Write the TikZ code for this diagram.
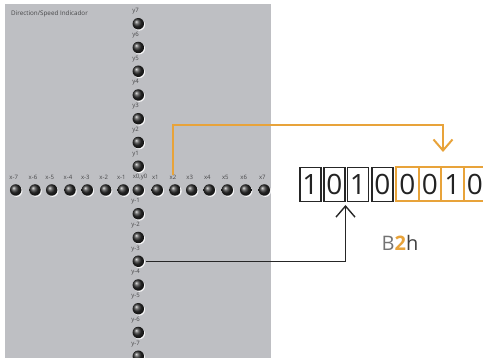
\documentclass[tikz,border=0pt]{standalone}
\usepackage{fontspec}
\setmainfont{Open Sans}
\usetikzlibrary{arrows.meta}
\definecolor{panel}{RGB}{190,191,195}
\definecolor{org}{RGB}{232,163,58}
\definecolor{lbl}{RGB}{70,70,72}
\definecolor{dig}{RGB}{35,35,35}
\begin{document}
\begin{tikzpicture}[x=1pt,y=-1pt,
  dot/.style={circle, minimum size=11.5pt, inner sep=0pt, ball color=black!82,
    preaction={fill=white!85!panel, transform canvas={shift={(1pt,-1.1pt)}}}},
  lab/.style={font=\fontsize{6}{6}\selectfont, text=lbl, inner sep=0pt},
  bbox/.style={draw=black!85, line width=1.3pt, minimum width=21pt, minimum height=34pt,
    inner sep=0pt, font=\fontsize{28}{28}\selectfont, text=dig},
  obox/.style={draw=org, line width=2pt, minimum width=22.5pt, minimum height=34pt,
    inner sep=0pt, font=\fontsize{28}{28}\selectfont, text=dig},
  barb/.style={-{Straight Barb[length=11pt,width=19pt]}}]
\useasboundingbox (0,0) rectangle (483,358);
\clip (0,0) rectangle (483,358);
\fill[panel] (5,4) rectangle (271,362);
\node[anchor=west, font=\fontsize{6.3}{6.3}\selectfont, text=lbl, inner sep=0pt] (title) at (11,14) {Direction/Speed Indicador};
% horizontal row
\foreach \n/\x/\t in {hm7/15.7/x-7, hm6/35/x-6, hm5/51.7/x-5, hm4/70/x-4, hm3/87.3/x-3, hm2/105.7/x-2, hm1/123.3/x-1,
  h1/157.3/x1, h2/175/x2, h3/191.7/x3, h4/209.3/x4, h5/227.3/x5, h6/245.7/x6, h7/264.3/x7}{
  \node[dot] (\n) at (\x,190) {};
  \node[lab] (l\n) at (\x-2,177) {\t};
}
\node[dot] (c) at (138.3,190) {};
\node[lab] (lc) at (140,177) {x0,y0};
% vertical column
\foreach \n/\k/\t in {v7/7/y7, v6/6/y6, v5/5/y5, v4/4/y4, v3/3/y3, v2/2/y2, v1/1/y1,
  vm1/-1/y-1, vm2/-2/y-2, vm3/-3/y-3, vm4/-4/y-4, vm5/-5/y-5, vm6/-6/y-6, vm7/-7/y-7}{
  \node[dot] (\n) at (138.3,190-\k*23.75) {};
  \node[lab] (l\n) at (135.5,177.5-\k*23.75) {\t};
}
% bit boxes
\node[bbox] (b1) at (310.5,184.5) {1};
\node[bbox] (b2) at (334.5,184.5) {0};
\node[bbox] (b3) at (358,184.5) {1};
\node[bbox] (b4) at (382.5,184.5) {0};
\node[obox] (b5) at (407.5,184.5) {0};
\node[obox] (b6) at (430,184.5) {0};
\node[obox] (b7) at (452.5,184.5) {1};
\node[obox] (b8) at (475,184.5) {0};
% connectors
\coordinate (oturn) at (443,125);
\coordinate (otip) at (443,152);
\draw[org, line width=2pt, barb] (lh2.north) |- (oturn) -- (otip);
\coordinate (btip) at (345.5,205);
\draw[black!85, line width=1.4pt, barb, shorten <=2pt] (vm3.east) -| (btip);
% label
\node[font=\fontsize{20}{20}\selectfont, inner sep=0pt] (hex) at (400,243)
  {\textcolor{black!55}{B}\textcolor{org}{\bfseries 2}\textcolor{black!75}{h}};
\end{tikzpicture}
\end{document}
